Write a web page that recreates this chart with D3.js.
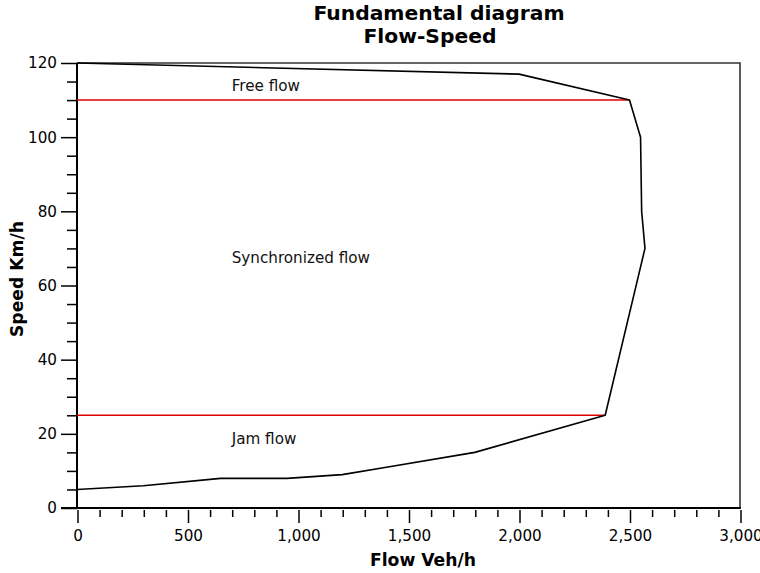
<!DOCTYPE html>
<html>
<head>
<meta charset="utf-8">
<script src="https://cdn.jsdelivr.net/npm/d3@7/dist/d3.min.js"></script>
<style>
  html, body { margin: 0; padding: 0; background: #fff; }
  svg { display: block; font-family: "DejaVu Sans", Verdana, sans-serif; }
</style>
</head>
<body>
<svg id="chart" width="760" height="573"></svg>
<script>
// Flow–speed relationship (flow in veh/h, speed in km/h), traced as a closed loop
const flow  = [0, 2000, 2500, 2550, 2555, 2570, 2390, 1800, 1400, 1200, 950, 650, 300, 0];
const speed = [120, 117, 110, 100, 80, 70, 25, 15, 11, 9, 8, 8, 6, 5];

// Regime boundaries (speed level and the flow where each meets the curve)
const boundarySpeed = [110, 25];
const boundaryFlowEnd = [2500, 2390];

// Regime annotations
const regimeNames = ["Free flow", "Synchronized flow", "Jam flow"];
const regimeFlow  = [700, 700, 700];
const regimeSpeed = [112.5, 66, 17.2];

const xTicks = [0, 500, 1000, 1500, 2000, 2500, 3000];
const yTicks = [0, 20, 40, 60, 80, 100, 120];

const svg = d3.select("#chart");
const plotLeft = 77, plotRight = 740, plotTop = 63, plotBottom = 508;
const labelSize = 15.2, titleSize = 20.3, axisTitleSize = 17.2;

const x = d3.scaleLinear().domain([0, 3000]).range([plotLeft, plotRight]);
const y = d3.scaleLinear().domain([0, 120]).range([plotBottom, plotTop]);

// Title
svg.append("text").attr("x", 439).attr("y", 20).attr("text-anchor", "middle")
  .attr("font-weight", "bold").attr("font-size", titleSize).attr("fill", "#000")
  .text("Fundamental diagram");
svg.append("text").attr("x", 430).attr("y", 43).attr("text-anchor", "middle")
  .attr("font-weight", "bold").attr("font-size", titleSize).attr("fill", "#000")
  .text("Flow-Speed");

// Plot frame (top and right edges)
svg.append("path")
  .attr("d", `M${plotLeft},${plotTop}H${plotRight}V${plotBottom}`)
  .attr("fill", "none").attr("stroke", "#333").attr("stroke-width", 1.6);

// Y axis: major ticks every 20, minor every 5
const gy = svg.append("g").attr("transform", `translate(${plotLeft},0)`);
gy.append("g")
  .call(d3.axisLeft(y).tickValues(d3.range(0, 121, 5).filter(v => v % 20 !== 0))
    .tickSize(10).tickFormat(""))
  .call(g => g.select(".domain").remove())
  .call(g => g.selectAll("line").attr("stroke", "#000").attr("stroke-width", 1.5));
gy.append("g")
  .call(d3.axisLeft(y).tickValues(yTicks).tickSize(16).tickPadding(4).tickFormat(d3.format("d")))
  .call(g => g.select(".domain").attr("stroke", "#000").attr("stroke-width", 2)
    .attr("d", `M0,${plotBottom + 0.5}V${plotTop}`))
  .call(g => g.selectAll("line").attr("stroke", "#000").attr("stroke-width", 1.5))
  .call(g => g.selectAll("text").attr("font-size", labelSize).attr("fill", "#000")
    .attr("font-family", "DejaVu Sans, Verdana, sans-serif"));

// Bottom edge
svg.append("line").attr("x1", plotLeft - 16).attr("x2", plotRight + 0.8)
  .attr("y1", plotBottom).attr("y2", plotBottom)
  .attr("stroke", "#000").attr("stroke-width", 2);

// X axis: major ticks every 500, minor every 100 (set slightly below the frame)
const gx = svg.append("g").attr("transform", `translate(0.5,${plotBottom + 2})`);
gx.append("g")
  .call(d3.axisBottom(x).tickValues(d3.range(0, 3001, 100).filter(v => v % 500 !== 0))
    .tickSize(7).tickFormat(""))
  .call(g => g.select(".domain").remove())
  .call(g => g.selectAll("line").attr("stroke", "#000").attr("stroke-width", 1.5));
gx.append("g")
  .call(d3.axisBottom(x).tickValues(xTicks).tickSize(13).tickPadding(7).tickFormat(d3.format(",")))
  .call(g => g.select(".domain").remove())
  .call(g => g.selectAll("line").attr("stroke", "#000").attr("stroke-width", 1.5))
  .call(g => g.selectAll("text").attr("font-size", labelSize).attr("fill", "#000")
    .attr("font-family", "DejaVu Sans, Verdana, sans-serif"));

// Axis titles
svg.append("text").attr("x", 423).attr("y", 566).attr("text-anchor", "middle")
  .attr("font-weight", "bold").attr("font-size", axisTitleSize).attr("fill", "#000")
  .text("Flow Veh/h");
svg.append("text").attr("transform", "translate(23,279) rotate(-90)")
  .attr("text-anchor", "middle")
  .attr("font-weight", "bold").attr("font-size", axisTitleSize).attr("fill", "#000")
  .text("Speed Km/h");

// Regime boundaries
boundarySpeed.forEach((s, i) => {
  svg.append("line")
    .attr("x1", x(0)).attr("x2", x(boundaryFlowEnd[i]))
    .attr("y1", y(s)).attr("y2", y(s))
    .attr("stroke", "#e00000").attr("stroke-width", 1.5);
});

// Flow–speed curve
const pts = flow.map((f, i) => [f, speed[i]]);
svg.append("path")
  .datum(pts)
  .attr("d", d3.line().x(d => x(d[0])).y(d => y(d[1])))
  .attr("fill", "none").attr("stroke", "#000").attr("stroke-width", 1.6)
  .attr("stroke-linejoin", "round");

// Regime labels
regimeNames.forEach((name, i) => {
  svg.append("text")
    .attr("x", x(regimeFlow[i])).attr("y", y(regimeSpeed[i]))
    .attr("font-size", labelSize).attr("fill", "#111")
    .text(name);
});
</script>
</body>
</html>
